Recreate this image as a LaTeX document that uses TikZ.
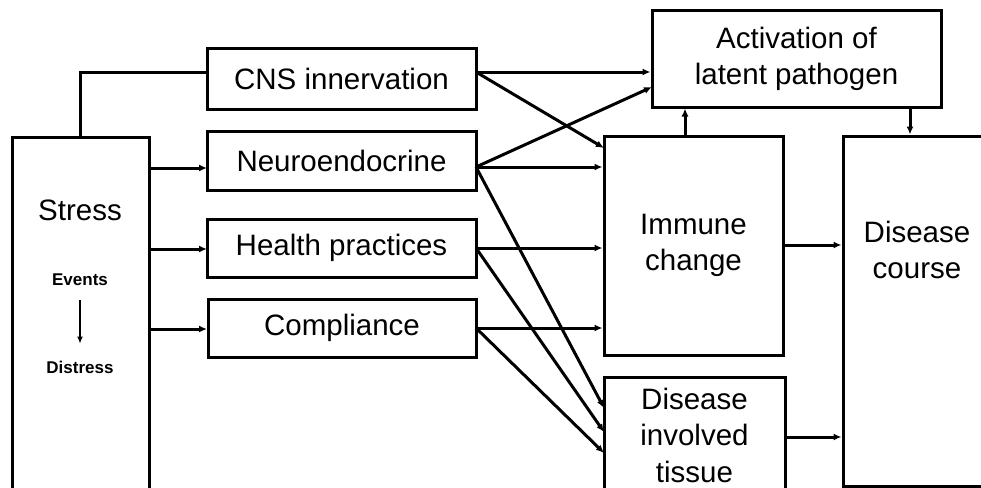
\documentclass[tikz,border=0pt]{standalone}
\usepackage{fontspec}
\setmainfont{Liberation Sans}
\usetikzlibrary{arrows.meta}
\begin{document}
\begin{tikzpicture}[x=1pt,y=-1pt,
  box/.style={draw, line width=3pt, inner sep=0pt, align=center,
    font=\fontsize{29.5}{36.5}\selectfont},
  lbl/.style={inner sep=0pt, align=center, font=\fontsize{29.5}{36.5}\selectfont},
  small/.style={inner sep=0pt, font=\fontsize{17}{20}\selectfont\bfseries},
  conn/.style={line width=3pt, -{Latex[length=8pt,width=7pt]}},
  plain/.style={line width=3pt}
]
\clip (0,0) rectangle (981,487);
\fill[white] (0,0) rectangle (981,487);

% boxes
\node[box, minimum width=137pt, minimum height=370pt] (stress) at (80.5,322) {};
\node[lbl] (stresslbl) at (80,210) {Stress};
\node[small] (events) at (80,280) {Events};
\node[small] (distress) at (80,367) {Distress};

\node[box, minimum width=269pt, minimum height=60pt] (cns) at (341.5,79) {CNS innervation};
\node[box, minimum width=269pt, minimum height=59pt] (neuro) at (341.5,160.5) {Neuroendocrine};
\node[box, minimum width=269pt, minimum height=58pt] (health) at (341.5,248) {Health practices};
\node[box, minimum width=268pt, minimum height=58pt] (compl) at (342,328) {Compliance};

\node[box, minimum width=289pt, minimum height=96pt] (act) at (796.5,59) {Activation of\\latent pathogen};
\node[box, minimum width=179pt, minimum height=219pt] (imm) at (693.5,245.5) {Immune\\change};
\node[box, minimum width=181pt, minimum height=116pt] (tis) at (694.5,435) {Disease\\involved\\tissue};
\node[box, minimum width=170pt, minimum height=350pt] (dc) at (928,311) {};
\node[lbl] (dclbl) at (917,250) {Disease\\course};

% ports
\coordinate (cnsIn) at (207,72);
\coordinate (neuIn) at (207,168);
\coordinate (heaIn) at (207,249);
\coordinate (comIn) at (207,329);
\coordinate (cnsO) at (476,72);
\coordinate (neuO) at (476,167);
\coordinate (heaO) at (476,248);
\coordinate (comO) at (476,328);
\coordinate (actB) at (652,87);
\coordinate (immA) at (604,148);
\coordinate (tisA) at (604,408);
\coordinate (tisB) at (604,432);
\coordinate (tisC) at (604,453);
\coordinate (immT) at (685,136);
\coordinate (actD) at (910,107);
\coordinate (immO) at (783,245);
\coordinate (tisO) at (785,437);

% stress connectors
\draw[plain] (stress.north) |- (cnsIn);
\draw[conn] (stress.east |- neuIn) -- (neuIn);
\draw[conn] (stress.east |- heaIn) -- (heaIn);
\draw[conn] (stress.east |- comIn) -- (comIn);
\draw[line width=2.2pt, -{Latex[length=7pt,width=6pt]}, shorten <=14pt, shorten >=17pt] (events.south) -- (distress.north);

% CNS
\draw[conn] (cnsO) -- (act.west |- cnsO);
\draw[conn] (cnsO) -- (immA);
% Neuroendocrine
\draw[conn] (neuO) -- (actB);
\draw[conn] (neuO) -- (imm.west |- neuO);
\draw[conn] (neuO) -- (tisA);
% Health practices
\draw[conn] (heaO) -- (imm.west |- heaO);
\draw[conn] (heaO) -- (tisB);
% Compliance
\draw[conn] (comO) -- (imm.west |- comO);
\draw[conn] (comO) -- (tisC);

% right part
\draw[conn] (immT) -- (act.south -| immT);
\draw[conn] (actD) -- (dc.north -| actD);
\draw[conn] (immO) -- (dc.west |- immO);
\draw[conn] (tisO) -- (dc.west |- tisO);
\end{tikzpicture}
\end{document}
